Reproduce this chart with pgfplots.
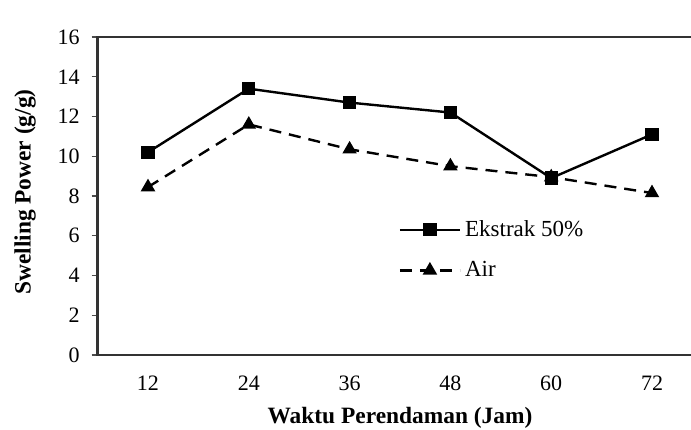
\documentclass[border=0pt]{standalone}
\usepackage{fontspec}
\setmainfont{Liberation Serif}
\usepackage{pgfplots}
\pgfplotsset{compat=1.18}

% 1 px of the reference = 0.5pt
\begin{document}
\begin{tikzpicture}
\useasboundingbox (-48.8pt,-37pt) rectangle (296.7pt,177.5pt);
\clip (-48.8pt,-37pt) rectangle (296.7pt,177.5pt);
\begin{axis}[
    width=310.8pt, height=159pt, scale only axis,
    xmin=6, xmax=80, ymin=0, ymax=16,
    xtick={12,24,36,48,60,72},
    ytick={0,2,...,16},
    xtick pos=bottom, ytick pos=left,
    major x tick style={draw=none},
    tick align=outside, major tick length=3pt,
    ytick style={black!70, line width=0.6pt},
    axis line style={black!80, line width=1.2pt},
    font=\fontsize{11}{13}\selectfont,
    /pgf/number format/assume math mode=true,
    xticklabel style={yshift=-4pt},
    yticklabel style={xshift=-2.5pt},
    xlabel={\textbf{Waktu Perendaman (Jam)}},
    ylabel={\textbf{Swelling Power (g/g)}},
    label style={font=\fontsize{11.7}{13}\selectfont},
    x label style={at={(rel axis cs:0.4865,0)}, anchor=north, yshift=-22.5pt},
    y label style={yshift=4pt, xshift=2pt},
    legend style={at={(axis cs:41.8,7.0)}, anchor=north west, draw=none, fill=none,
        font=\fontsize{11.5}{13}\selectfont, row sep=7pt, inner sep=0pt,
        /tikz/every even column/.append style={column sep=4pt}},
    legend cell align=left,
    legend image code/.code={
        \draw[mark repeat=2,mark phase=2] plot coordinates {(0pt,0pt) (15pt,0pt) (30pt,0pt)};},
]
\addplot[black, line width=1.2pt, mark=square*, mark size=2.75pt,
    mark options={solid}]
    coordinates {(12,10.2) (24,13.4) (36,12.7) (48,12.2) (60,8.9) (72,11.1)};
\addplot[black, line width=1.2pt, dash pattern=on 6pt off 4pt, mark=triangle*,
    mark size=3pt, mark options={solid}]
    coordinates {(12,8.45) (24,11.6) (36,10.35) (48,9.5) (60,8.95) (72,8.15)};
\legend{Ekstrak 50\%, Air}
\end{axis}
\end{tikzpicture}
\end{document}
